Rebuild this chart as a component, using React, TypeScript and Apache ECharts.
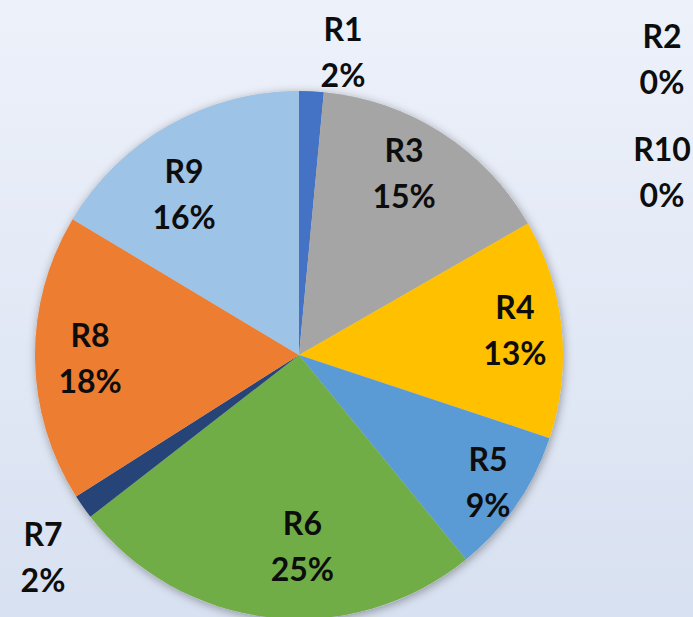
import React, { useEffect, useRef } from "react";
import * as echarts from "echarts";

const categories = ["R1", "R2", "R3", "R4", "R5", "R6", "R7", "R8", "R9", "R10"];
const values = [1.5, 0, 15.2, 13.4, 9.0, 25.4, 1.5, 17.6, 16.4, 0];
const colors = ["#4472c4", "#7f7f7f", "#a5a5a5", "#ffc000", "#5b9bd5", "#70ad47", "#264478", "#ed7d31", "#9dc3e6", "#997300"];
// manual label spots (Excel hand-placed labels for tiny slices)
const outsideLabels: Record<string, [number, number]> = {
  R1: [343, 51],
  R2: [662, 58],
  R10: [662, 171],
  R7: [43, 556],
};
// small nudges of the inside labels (Excel best-fit placement)
const labelNudge: Record<string, [number, number]> = {
  R3: [-8, -7],
  R4: [8, -5],
  R5: [17, 8],
  R6: [27, -17],
  R9: [-12, 20],
};

export default function App() {
  const ref = useRef<HTMLDivElement>(null);
  useEffect(() => {
    document.body.style.margin = "0";
    const chart = echarts.init(ref.current!, null, { renderer: "svg" });
    const data = categories.map((c, i) => ({ name: c, value: values[i], itemStyle: { color: colors[i] } }));
    const center = [299, 355];
    const R = 264;
    chart.setOption({
      animation: false,
      backgroundColor: {
        type: "linear", x: 0, y: 0, x2: 0, y2: 1,
        colorStops: [
          { offset: 0, color: "#edf1fa" },
          { offset: 1, color: "#d8e1f1" },
        ],
      },
      series: [
        {
          type: "pie",
          silent: true,
          center,
          radius: [0, R],
          z: 1,
          data: [{ value: 1, itemStyle: { color: "#cccccc", shadowBlur: 10, shadowColor: "rgba(0,0,0,0.35)", shadowOffsetX: 1, shadowOffsetY: 2 } }],
          label: { show: false },
          labelLine: { show: false },
        },
        {
          type: "pie",
          silent: true,
          center,
          radius: [0, R],
          startAngle: 90,
          clockwise: true,
          z: 2,
          data,
          itemStyle: { borderWidth: 0 },
          label: { show: false },
          labelLine: { show: false },
        },
        {
          type: "pie",
          silent: true,
          center,
          radius: [R * 0.56, R],
          startAngle: 90,
          clockwise: true,
          z: 3,
          avoidLabelOverlap: false,
          minShowLabelAngle: 0,
          data: categories.map((c, i) => ({ name: c, value: values[i] })),
          itemStyle: { color: "rgba(0,0,0,0)", borderWidth: 0 },
          label: {
            show: true,
            position: "inside",
            formatter: (p: any) => `${p.name}\n${Math.round(p.percent)}%`,
            color: "#0d0d0d",
            fontFamily: "Lato",
            fontWeight: "bold",
            fontSize: 32,
            lineHeight: 46,
            align: "center",
          },
          labelLine: { show: false },
          labelLayout: (p: any) => {
            const name = categories[p.dataIndex];
            const pos = outsideLabels[name];
            if (pos) return { x: pos[0], y: pos[1], align: "center", verticalAlign: "middle" };
            const n = labelNudge[name];
            if (n) return { dx: n[0], dy: n[1] };
            return {};
          },
        },
      ],
    });
    return () => chart.dispose();
  }, []);
  return <div ref={ref} style={{ width: 693, height: 617 }} />;
}
